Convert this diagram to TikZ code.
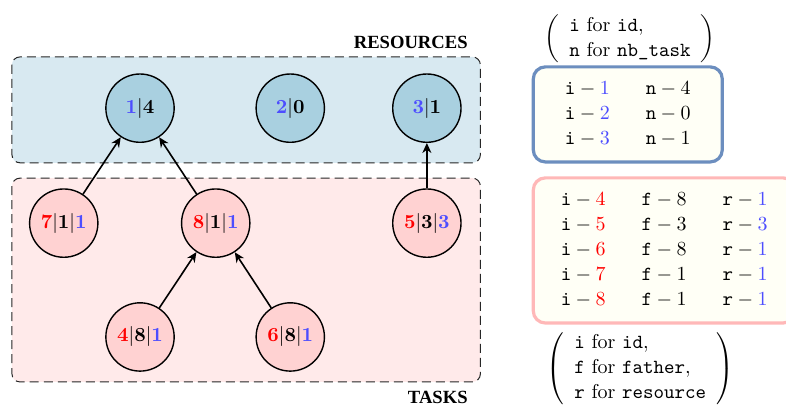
\documentclass[tikz,border=0pt]{standalone}
\usepackage{amsmath}
\usepackage{fontspec}
\usetikzlibrary{
  positioning,
  arrows.meta
}
\newfontfamily\capfont{Liberation Serif}
\definecolor{resbg}{HTML}{D8E9F1}
\definecolor{resnode}{HTML}{A9D0E0}
\definecolor{taskbg}{HTML}{FFEAEA}
\definecolor{tasknode}{HTML}{FFD2D2}
\definecolor{idred}{HTML}{FF0000}
\definecolor{idblue}{HTML}{4D4DFF}
\definecolor{tabbg}{HTML}{FFFFF6}
\definecolor{resframe}{HTML}{6C8EBF}
\definecolor{taskframe}{HTML}{FFB8B8}
\renewcommand{\arraystretch}{1.04}

\begin{document}
\begin{tikzpicture}[
    area/.style={draw=black!85, line width=0.5pt,
                 dash pattern=on 4.5pt off 2.5pt, rounded corners=4pt},
    ball/.style={circle, draw, line width=0.7pt, minimum size=1.2cm,
                 inner sep=0pt, font=\normalsize},
    link/.style={thick, -{Stealth[length=5pt,width=4.5pt]}},
    legend/.style={rounded corners=6pt, line width=1.6pt, fill=tabbg,
                   inner sep=0pt},
    caption/.style={anchor=east, font=\capfont\bfseries\fontsize{9.3}{11}\selectfont},
  ]
  \useasboundingbox (0,0) rectangle (13.81,-7.15);

  % the two areas
  \draw[area, fill=resbg]  (0.21,-1.00) rectangle (8.44,-2.86);
  \draw[area, fill=taskbg] (0.21,-3.13) rectangle (8.44,-6.71);
  \node[caption] (reslabel)  at (8.34,-0.74) {RESOURCES};
  \node[caption] (tasklabel) at (8.34,-6.98) {TASKS};

  % resources: id|nb_task
  \node[ball, fill=resnode] (r1) at (2.46,-1.90) {\textcolor{idblue}{\textbf{1}}$|$\textbf{4}};
  \node[ball, fill=resnode] (r2) at (5.10,-1.90) {\textcolor{idblue}{\textbf{2}}$|$\textbf{0}};
  \node[ball, fill=resnode] (r3) at (7.50,-1.90) {\textcolor{idblue}{\textbf{3}}$|$\textbf{1}};

  % tasks: id|father|resource
  \node[ball, fill=tasknode] (t7) at (1.12,-3.92) {\textcolor{idred}{\textbf{7}}$|$\textbf{1}$|$\textcolor{idblue}{\textbf{1}}};
  \node[ball, fill=tasknode] (t8) at (3.79,-3.92) {\textcolor{idred}{\textbf{8}}$|$\textbf{1}$|$\textcolor{idblue}{\textbf{1}}};
  \node[ball, fill=tasknode] (t5) at (7.50,-3.92) {\textcolor{idred}{\textbf{5}}$|$\textbf{3}$|$\textcolor{idblue}{\textbf{3}}};
  \node[ball, fill=tasknode] (t4) at (2.46,-5.92) {\textcolor{idred}{\textbf{4}}$|$\textbf{8}$|$\textcolor{idblue}{\textbf{1}}};
  \node[ball, fill=tasknode] (t6) at (5.10,-5.92) {\textcolor{idred}{\textbf{6}}$|$\textbf{8}$|$\textcolor{idblue}{\textbf{1}}};

  \draw[link] (t7) -- (r1);
  \draw[link] (t8) -- (r1);
  \draw[link] (t5) -- (r3);
  \draw[link] (t4) -- (t8);
  \draw[link] (t6) -- (t8);

  % tables
  \node[inner sep=0pt] (reskey) at (11.07,-0.68) {$\left(\begin{array}{l}
      \texttt{i}\text{ for }\texttt{id},\\
      \texttt{n}\text{ for }\texttt{nb\_task}
    \end{array}\right)$};
  \node[legend, draw=resframe, minimum width=3.32cm, minimum height=1.67cm]
    (restab) at (11.03,-2.01) {$\begin{array}{l@{\hspace{18pt}}l}
      \texttt{i} - \textcolor{idblue}{1} & \texttt{n} - 4\\
      \texttt{i} - \textcolor{idblue}{2} & \texttt{n} - 0\\
      \texttt{i} - \textcolor{idblue}{3} & \texttt{n} - 1
    \end{array}$\hspace{4pt}};
  \node[legend, draw=taskframe, minimum width=4.60cm, minimum height=2.55cm]
    (tasktab) at (11.67,-4.40) {$\begin{array}{l@{\hspace{18pt}}l@{\hspace{18pt}}l}
      \texttt{i} - \textcolor{idred}{4} & \texttt{f} - 8 & \texttt{r} - \textcolor{idblue}{1}\\
      \texttt{i} - \textcolor{idred}{5} & \texttt{f} - 3 & \texttt{r} - \textcolor{idblue}{3}\\
      \texttt{i} - \textcolor{idred}{6} & \texttt{f} - 8 & \texttt{r} - \textcolor{idblue}{1}\\
      \texttt{i} - \textcolor{idred}{7} & \texttt{f} - 1 & \texttt{r} - \textcolor{idblue}{1}\\
      \texttt{i} - \textcolor{idred}{8} & \texttt{f} - 1 & \texttt{r} - \textcolor{idblue}{1}
    \end{array}$};
  \node[inner sep=0pt] (taskkey) at (11.25,-6.47) {$\left(\begin{array}{l}
      \texttt{i}\text{ for }\texttt{id},\\
      \texttt{f}\text{ for }\texttt{father},\\
      \texttt{r}\text{ for }\texttt{resource}
    \end{array}\right)$};
\end{tikzpicture}
\end{document}
